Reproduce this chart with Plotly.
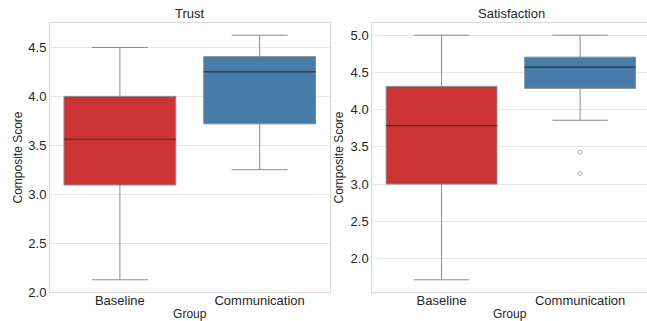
import plotly.graph_objects as go

categories = ["Baseline", "Communication"]
colors = ["#cb3335", "#477ca8"]
median_colors = ["#7a1b1c", "#1c2f45"]

trust_low = [2.125, 3.25]
trust_q1 = [3.094, 3.719]
trust_median = [3.5625, 4.25]
trust_q3 = [4.0, 4.406]
trust_high = [4.5, 4.625]

sat_low = [1.714, 3.857]
sat_q1 = [3.0, 4.286]
sat_median = [3.786, 4.571]
sat_q3 = [4.3125, 4.705]
sat_high = [5.0, 5.0]

sat_outlier_group = ["Communication", "Communication"]
sat_outliers = [3.429, 3.143]

fig = go.Figure()

panels = [
    ("x", "y", trust_low, trust_q1, trust_median, trust_q3, trust_high),
    ("x2", "y2", sat_low, sat_q1, sat_median, sat_q3, sat_high),
]
for xa, ya, lo, q1, med, q3, hi in panels:
    for i, cat in enumerate(categories):
        fig.add_trace(go.Box(
            x=[cat], q1=[q1[i]], median=[med[i]], q3=[q3[i]],
            lowerfence=[lo[i]], upperfence=[hi[i]],
            fillcolor=colors[i], line=dict(color="#8a8a8a", width=1),
            width=0.8, whiskerwidth=0.5, boxpoints=False,
            xaxis=xa, yaxis=ya, showlegend=False, hoverinfo="skip"))
        # darker median line
        fig.add_trace(go.Box(
            x=[cat], q1=[med[i]], median=[med[i]], q3=[med[i]],
            lowerfence=[med[i]], upperfence=[med[i]],
            fillcolor="rgba(0,0,0,0)", line=dict(color=median_colors[i], width=1.3),
            width=0.8, whiskerwidth=0, boxpoints=False,
            xaxis=xa, yaxis=ya, showlegend=False, hoverinfo="skip"))

fig.add_trace(go.Scatter(
    x=sat_outlier_group, y=sat_outliers, mode="markers",
    marker=dict(symbol="circle-open", size=4, color="#999999", line=dict(width=0.8)),
    xaxis="x2", yaxis="y2", showlegend=False, hoverinfo="skip"))

W, H = 647, 321
FONT = "Liberation Sans, Arial, sans-serif"
tickfont = dict(family=FONT, size=13, color="#262626")
titlefont = dict(family=FONT, size=12, color="#262626")
axis_common = dict(showline=True, mirror=True, linecolor="#d9d9d9", linewidth=1,
                   ticks="", tickfont=tickfont, zeroline=False)

fig.update_layout(
    width=W, height=H,
    margin=dict(l=0, r=0, t=23, b=29),
    paper_bgcolor="white", plot_bgcolor="white",
    boxmode="overlay",
    font=dict(family=FONT, color="#262626"),
    xaxis=dict(domain=[50 / W, 329.5 / W], type="category", range=[-0.5, 1.5],
               showgrid=False, ticklabelstandoff=-4,
               title=dict(text="Group", font=titlefont, standoff=4),
               **axis_common),
    yaxis=dict(range=[2.0, 4.75], dtick=0.5, tick0=0, tickformat=".1f",
               showgrid=True, gridcolor="#e6e6e6", gridwidth=1,
               title=dict(text="Composite Score", font=titlefont, standoff=3),
               **axis_common),
    xaxis2=dict(domain=[372.3 / W, 1.0], type="category", range=[-0.5, 1.483],
                showgrid=False, ticklabelstandoff=-4,
                title=dict(text="Group", font=titlefont, standoff=4),
                anchor="y2", **axis_common),
    yaxis2=dict(range=[1.55, 5.164], dtick=0.5, tick0=0, tickformat=".1f",
                showgrid=True, gridcolor="#e6e6e6", gridwidth=1,
                title=dict(text="Composite Score", font=titlefont, standoff=4),
                anchor="x2", **axis_common),
    annotations=[
        dict(text="Trust", x=(50 + 329.5) / 2 / W, y=1, xref="paper", yref="paper",
             xanchor="center", yanchor="bottom", showarrow=False,
             font=dict(family=FONT, size=13, color="#262626")),
        dict(text="Satisfaction", x=(372.3 + 650) / 2 / W, y=1, xref="paper", yref="paper",
             xanchor="center", yanchor="bottom", showarrow=False,
             font=dict(family=FONT, size=13, color="#262626")),
    ],
)

fig.write_html("out.html", config={"displayModeBar": False},
               post_script="document.body.style.margin='0';document.body.style.overflow='hidden';")
